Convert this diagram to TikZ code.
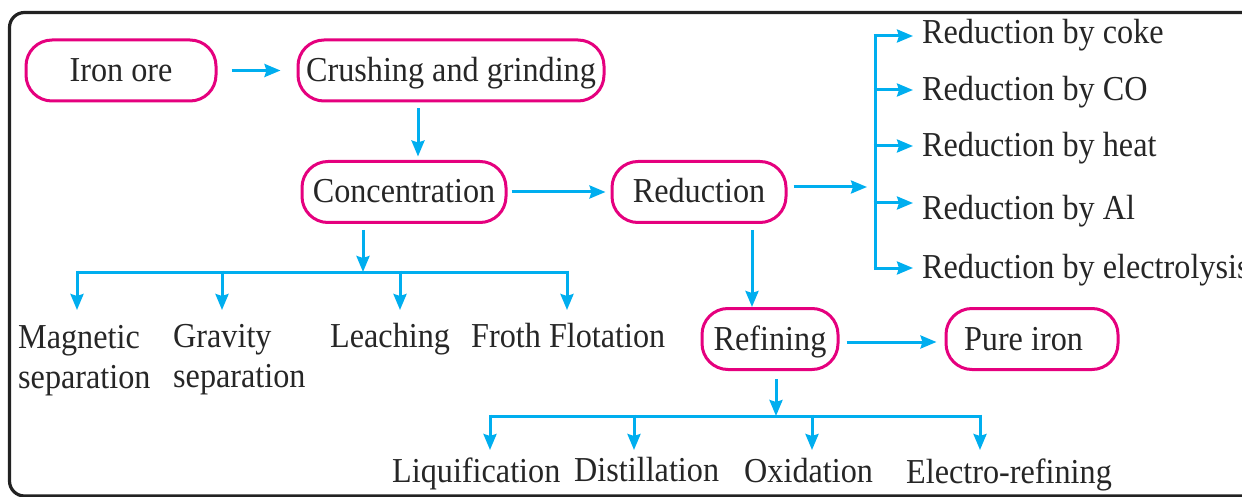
\documentclass[tikz,border=0pt]{standalone}
\usepackage{fontspec}
\setmainfont[FakeStretch=0.92]{Liberation Serif}
\usetikzlibrary{arrows.meta}
\definecolor{pinkc}{HTML}{E5007E}
\definecolor{bluec}{HTML}{00AEEF}
\definecolor{framec}{HTML}{222222}
\begin{document}
\begin{tikzpicture}[x=1pt,y=-1pt,
  box/.style={draw=pinkc, line width=3pt, rounded corners=26pt, minimum height=61pt,
    inner sep=0pt, text height=25pt, text depth=3pt, font=\fontsize{35}{40}\selectfont, text=black!85},
  lbl/.style={inner sep=0pt, font=\fontsize{35}{40}\selectfont, text=black!85, align=left},
  wire/.style={draw=bluec, line width=3pt},
  arr/.style={wire, -{Stealth[length=16pt,width=13pt,inset=2pt]}}]
\useasboundingbox (0,0) rectangle (1242,497);
\draw[framec, line width=3.2pt, rounded corners=15pt] (9.5,12.5) rectangle (1260,496);

% boxes
\node[box, minimum width=190pt] (iron) at (121,70.5) {Iron ore};
\node[box, minimum width=306pt] (crush) at (451,70.5) {Crushing and grinding};
\node[box, minimum width=204pt] (conc) at (404,192) {Concentration};
\node[box, minimum width=174pt] (red) at (699,192) {Reduction};
\node[box, minimum width=136pt] (ref) at (770,339) {Refining};
\node[box, text width=136pt, inner xsep=18pt, align=flush left] (pure) at (1032,339) {Pure iron};

% main arrows
\draw[arr, shorten <=14pt, shorten >=16pt] (iron) -- (crush);
\draw[arr] (crush.south -| 418,0) ++(0,6) -- ++(0,48);
\draw[arr, shorten <=4pt, shorten >=5pt] (conc.east) -- (red.west);
\draw[arr, shorten <=7pt, shorten >=8pt] (ref.east) ++(0,3) -- (pure.west |- 0,342);

% reduction bracket
\coordinate (rj) at (867,187);
\coordinate (bt) at (875,36);
\coordinate (bb) at (875,268);
\draw[arr, shorten <=6pt] (red.east |- rj) -- (rj);
\draw[wire] (bt) -- (bb);
\node[lbl, anchor=base west] (r1) at (922,44) {Reduction by coke};
\node[lbl, anchor=base west] (r2) at (922,101) {Reduction by CO};
\node[lbl, anchor=base west] (r3) at (922,157) {Reduction by heat};
\node[lbl, anchor=base west] (r4) at (922,219) {Reduction by Al};
\node[lbl, anchor=base west] (r5) at (922,278) {Reduction by electrolysis};
\draw[arr] (873.5,36) -- (913,36);
\draw[arr] (873.5,90) -- (913,90);
\draw[arr] (873.5,146) -- (913,146);
\draw[arr] (873.5,203) -- (913,203);
\draw[arr] (873.5,268) -- (913,268);

% concentration branches
\coordinate (cj) at (363,272);
\draw[arr] (conc.south -| cj) ++(0,6) -- (cj);
\draw[wire] (77,272) -- (567,272);
\node[lbl, anchor=base west] (m1) at (18,388) {Magnetic\\separation};
\node[lbl, anchor=base west] (m2) at (173,387) {Gravity\\separation};
\node[lbl, anchor=base west] (m3) at (330,347) {Leaching};
\node[lbl, anchor=base west] (m4) at (471,347) {Froth Flotation};
\draw[arr] (77,270.5) -- (77,310);
\draw[arr] (222,270.5) -- (222,310);
\draw[arr] (400,270.5) -- (400,310);
\draw[arr] (567,270.5) -- (567,310);

% reduction to refining
\draw[arr] (red.south -| 752,0) ++(0,6) -- (ref.north -| 752,0);

% refining branches
\coordinate (fj) at (776,416);
\draw[arr] (ref.south -| fj) ++(0,8) -- (fj);
\draw[wire] (490,416) -- (980,416);
\node[lbl, anchor=base west] (q1) at (392,482) {Liquification};
\node[lbl, anchor=base west] (q2) at (574,481) {Distillation};
\node[lbl, anchor=base west] (q3) at (744,482) {Oxidation};
\node[lbl, anchor=base west] (q4) at (906,483) {Electro-refining};
\draw[arr] (490,414.5) -- (490,450);
\draw[arr] (634,414.5) -- (634,450);
\draw[arr] (812,414.5) -- (812,450);
\draw[arr] (980,414.5) -- (980,450);
\end{tikzpicture}
\end{document}
